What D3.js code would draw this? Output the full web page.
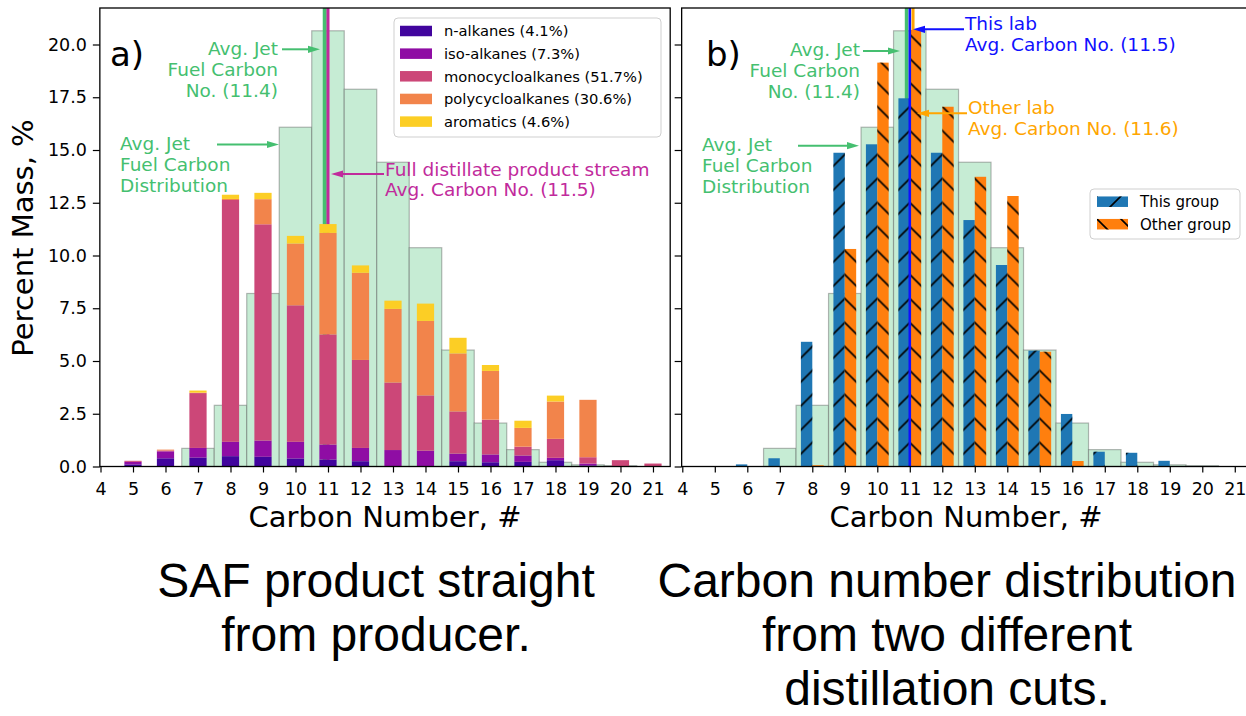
<!DOCTYPE html>
<html>
<head>
<meta charset="utf-8">
<script src="https://cdn.jsdelivr.net/npm/d3@7"></script>
<style>
body { margin: 0; background: #fff; }
svg { display: block; }
text { font-family: "DejaVu Sans", sans-serif; }
text.caption { font-family: "Liberation Sans", Arial, sans-serif; }
</style>
</head>
<body>
<svg id="fig" width="1246" height="716"></svg>
<script>
//////////////////////////////   DATA   //////////////////////////////
var carbon = [5, 6, 7, 8, 9, 10, 11, 12, 13, 14, 15, 16, 17, 18, 19, 20, 21];

// panel a) stacked composition, percent mass
var nAlkanes  = [0.10, 0.39, 0.42, 0.49, 0.46, 0.38, 0.33, 0.25, 0.00, 0.00, 0.25, 0.20, 0.22, 0.30, 0.05, 0.02, 0.00];
var isoAlkanes = [0.12, 0.33, 0.46, 0.68, 0.77, 0.79, 0.71, 0.63, 0.78, 0.75, 0.36, 0.37, 0.30, 0.11, 0.09, 0.00, 0.00];
var monocyclo = [0.05, 0.04, 2.60, 11.46, 10.25, 6.47, 5.22, 4.17, 3.20, 2.62, 2.00, 1.65, 0.42, 0.90, 0.30, 0.28, 0.14];
var polycyclo = [0.00, 0.04, 0.02, 0.05, 1.19, 2.93, 4.81, 4.13, 3.49, 3.53, 2.75, 2.31, 0.89, 1.77, 2.72, 0.00, 0.00];
var aromatics = [0.00, 0.00, 0.10, 0.20, 0.30, 0.36, 0.42, 0.35, 0.39, 0.82, 0.74, 0.28, 0.34, 0.28, 0.00, 0.00, 0.00];
var seriesLabels = ["n-alkanes (4.1%)", "iso-alkanes (7.3%)", "monocycloalkanes (51.7%)",
                    "polycycloalkanes (30.6%)", "aromatics (4.6%)"];

// average jet fuel carbon distribution (green histogram, both panels)
var jetFuel = [0.00, 0.00, 0.86, 2.90, 8.20, 16.08, 20.65, 17.88, 14.42, 10.37, 5.52, 2.06, 0.80, 0.20, 0.08, 0.04, 0.00];

// panel b) two distillation cuts
var thisGroup  = [0.00, 0.10, 0.39, 5.91, 14.87, 15.27, 17.45, 14.87, 11.68, 9.55, 5.49, 2.49, 0.70, 0.65, 0.27, 0.00, 0.00];
var otherGroup = [0.00, 0.00, 0.00, 0.06, 10.31, 19.14, 20.69, 17.05, 13.73, 12.82, 5.44, 0.26, 0.00, 0.00, 0.00, 0.00, 0.00];
var groupLabels = ["This group", "Other group"];

var xTicks = [4, 5, 6, 7, 8, 9, 10, 11, 12, 13, 14, 15, 16, 17, 18, 19, 20, 21];
var yTicks = [0, 2.5, 5, 7.5, 10, 12.5, 15, 17.5, 20];

var jetAvg = 11.4, streamAvg = 11.5, thisLabAvg = 11.5, otherLabAvg = 11.6;
var avgShift = -0.5;   // the original draws the average lines half a bin to the left

//////////////////////////////   SETUP   //////////////////////////////
var svg = d3.select("#fig");
svg.append("rect").attr("width", 1246).attr("height", 716).attr("fill", "#fff");
var defs = svg.append("defs");

var green = "#45bf70", greenFill = "#c6ecd4";
var plasma = [0.1, 0.3, 0.5, 0.7, 0.9].map(d3.interpolatePlasma);
var keys = ["n", "iso", "mono", "poly", "arom"];

var y = d3.scaleLinear().domain([0, 21.73]).range([466.5, 8]);
var xa = d3.scaleLinear().domain([3.98, 21.53]).range([99.85, 670.2]);
var xb = d3.scaleLinear().domain([3.98, 21.53]).range([681.65, 1252]);

function multiline(g, arr, x, y0, dy, color, anchor, size) {
    var t = g.append("text")
        .attr("fill", color)
        .attr("font-size", size)
        .attr("text-anchor", anchor);
    arr.forEach(function(s, i) {
        t.append("tspan").attr("x", x).attr("y", y0 + i * dy).text(s);
    });
}

function arrow(g, x1, yy, x2, color) {
    var dir = x2 > x1 ? 1 : -1;
    g.append("line")
        .attr("x1", x1).attr("x2", x2 - dir * 10)
        .attr("y1", yy).attr("y2", yy)
        .attr("stroke", color).attr("stroke-width", 2);
    g.append("path")
        .attr("d", "M" + x2 + "," + yy + "L" + (x2 - dir * 12) + "," + (yy - 3.6) +
                   "L" + (x2 - dir * 12) + "," + (yy + 3.6) + "Z")
        .attr("fill", color);
}

function hatch(id, x0, y0, dir) {
    var s = 24;
    var p = defs.append("pattern")
        .attr("id", id)
        .attr("patternUnits", "userSpaceOnUse")
        .attr("x", x0).attr("y", y0)
        .attr("width", s).attr("height", s);
    var d = dir == "/"
        ? "M0," + s + "L" + s + ",0M-4,4L4,-4M" + (s - 4) + "," + (s + 4) + "L" + (s + 4) + "," + (s - 4)
        : "M0,0L" + s + "," + s + "M-4," + (s - 4) + "L4," + (s + 4) + "M" + (s - 4) + ",-4L" + (s + 4) + ",4";
    p.append("path").attr("d", d).attr("stroke", "#000").attr("stroke-width", 1.6).attr("fill", "none");
}

function jetHist(g, x) {
    g.selectAll("rect.jet")
        .data(carbon.map(function(c, i) { return {c: c, v: jetFuel[i]}; }).filter(function(d) { return d.v > 0; }))
        .enter().append("rect")
        .attr("class", "jet")
        .attr("x", function(d) { return x(d.c - 0.5); })
        .attr("width", function(d) { return x(d.c + 0.5) - x(d.c - 0.5); })
        .attr("y", function(d) { return y(d.v); })
        .attr("height", function(d) { return y(0) - y(d.v); })
        .attr("fill", greenFill)
        .attr("stroke", "rgba(80,80,80,0.4)")
        .attr("stroke-width", 1.2);
}

function vline(g, x, val, color, w) {
    g.append("line")
        .attr("x1", x(val + avgShift)).attr("x2", x(val + avgShift))
        .attr("y1", y.range()[1]).attr("y2", y(0))
        .attr("stroke", color).attr("stroke-width", w);
}

function axes(g, x, withLabels) {
    g.append("g")
        .attr("transform", "translate(0," + y(0) + ")")
        .call(d3.axisBottom(x).tickValues(xTicks).tickSize(6).tickPadding(10).tickFormat(d3.format("d")))
        .call(function(a) {
            a.select(".domain").remove();
            a.selectAll("text").attr("font-size", 17.5).attr("fill", "#000");
            a.selectAll("line").attr("stroke", "#000").attr("stroke-width", 1.2);
        });
    var ya = d3.axisLeft(y).tickValues(yTicks).tickSize(7).tickPadding(6).tickFormat(d3.format(".1f"));
    if (!withLabels) ya.tickFormat("");
    g.append("g")
        .attr("transform", "translate(" + x.range()[0] + ",0)")
        .call(ya)
        .call(function(a) {
            a.select(".domain").remove();
            a.selectAll("text").attr("font-size", 17.5).attr("fill", "#000");
            a.selectAll("line").attr("stroke", "#000").attr("stroke-width", 1.2);
        });
    g.append("rect")
        .attr("x", x.range()[0]).attr("y", y.range()[1])
        .attr("width", x.range()[1] - x.range()[0])
        .attr("height", y(0) - y.range()[1])
        .attr("fill", "none").attr("stroke", "#000").attr("stroke-width", 1.3);
}

//////////////////////////////   PANEL A   //////////////////////////////
var ga = svg.append("g");
jetHist(ga, xa);
vline(ga, xa, jetAvg, green, 4);
vline(ga, xa, streamAvg, "#c12a9c", 3);

var rows = carbon.map(function(c, i) {
    return {c: c, n: nAlkanes[i], iso: isoAlkanes[i], mono: monocyclo[i], poly: polycyclo[i], arom: aromatics[i]};
});
var stacked = d3.stack().keys(keys)(rows);
var bw = 0.53;
ga.selectAll("g.layer")
    .data(stacked)
    .enter().append("g")
    .attr("class", "layer")
    .attr("fill", function(d, i) { return plasma[i]; })
    .selectAll("rect")
    .data(function(d) { return d; })
    .enter().append("rect")
    .attr("x", function(d) { return xa(d.data.c - bw / 2); })
    .attr("width", xa(bw) - xa(0))
    .attr("y", function(d) { return y(d[1]); })
    .attr("height", function(d) { return Math.max(0, y(d[0]) - y(d[1])); });

axes(ga, xa, true);

// legend
var lg = ga.append("g");
lg.append("rect").attr("x", 394).attr("y", 18).attr("width", 267).attr("height", 119)
    .attr("rx", 4).attr("fill", "#fff").attr("fill-opacity", 0.85)
    .attr("stroke", "#cfcfcf").attr("stroke-width", 1);
seriesLabels.forEach(function(s, i) {
    var cy = 31 + i * 22.65;
    lg.append("rect").attr("x", 400).attr("y", cy - 5.25).attr("width", 32).attr("height", 10.5)
        .attr("fill", plasma[i]);
    lg.append("text").attr("x", 444).attr("y", cy + 5.3).attr("font-size", 14.7).text(s);
});

ga.append("text").attr("x", 110).attr("y", 66).attr("font-size", 34).text("a)");
multiline(ga, ["Avg. Jet", "Fuel Carbon", "No. (11.4)"], 278, 55, 21, green, "end", 18.5);
arrow(ga, 282, 49.3, 320, green);
multiline(ga, ["Avg. Jet", "Fuel Carbon", "Distribution"], 120, 150, 21, green, "start", 18.5);
arrow(ga, 217, 144.5, 279, green);
multiline(ga, ["Full distillate product stream", "Avg. Carbon No. (11.5)"], 385, 175.5, 20.5, "#c12a9c", "start", 18.5);
arrow(ga, 384, 174, 331, "#c12a9c");

ga.append("text").attr("x", 385).attr("y", 527).attr("font-size", 29)
    .attr("text-anchor", "middle").text("Carbon Number, #");
ga.append("text").attr("transform", "translate(33,238) rotate(-90)").attr("font-size", 29)
    .attr("text-anchor", "middle").text("Percent Mass, %");

//////////////////////////////   PANEL B   //////////////////////////////
var gb = svg.append("g");
jetHist(gb, xb);
vline(gb, xb, jetAvg, green, 3.5);
vline(gb, xb, otherLabAvg, "#ffa500", 3);

var gw = 0.35;
carbon.forEach(function(c) {
    hatch("hb" + c, xb(c), y(0), "/");
    hatch("ho" + c, xb(c), y(0), "\\");
});
var pairs = carbon.map(function(c, i) { return {c: c, a: thisGroup[i], b: otherGroup[i]}; });

gb.selectAll("rect.this").data(pairs.filter(function(d) { return d.a > 0; }))
    .enter().append("rect").attr("class", "this")
    .attr("x", function(d) { return xb(d.c - gw); })
    .attr("width", xb(gw) - xb(0))
    .attr("y", function(d) { return y(d.a); })
    .attr("height", function(d) { return y(0) - y(d.a); })
    .attr("fill", "#1f77b4");
gb.selectAll("rect.thish").data(pairs.filter(function(d) { return d.a > 0.5; }))
    .enter().append("rect").attr("class", "thish")
    .attr("x", function(d) { return xb(d.c - gw); })
    .attr("width", xb(gw) - xb(0))
    .attr("y", function(d) { return y(d.a); })
    .attr("height", function(d) { return y(0) - y(d.a); })
    .attr("fill", function(d) { return "url(#hb" + d.c + ")"; });

gb.selectAll("rect.other").data(pairs.filter(function(d) { return d.b > 0; }))
    .enter().append("rect").attr("class", "other")
    .attr("x", function(d) { return xb(d.c); })
    .attr("width", xb(gw) - xb(0))
    .attr("y", function(d) { return y(d.b); })
    .attr("height", function(d) { return y(0) - y(d.b); })
    .attr("fill", "#ff7f0e");
gb.selectAll("rect.otherh").data(pairs.filter(function(d) { return d.b > 0.5; }))
    .enter().append("rect").attr("class", "otherh")
    .attr("x", function(d) { return xb(d.c); })
    .attr("width", xb(gw) - xb(0))
    .attr("y", function(d) { return y(d.b); })
    .attr("height", function(d) { return y(0) - y(d.b); })
    .attr("fill", function(d) { return "url(#ho" + d.c + ")"; });

vline(gb, xb, thisLabAvg, "#1010ff", 2.6);

axes(gb, xb, false);

// legend
var lb = gb.append("g");
lb.append("rect").attr("x", 1090).attr("y", 189).attr("width", 150).attr("height", 50)
    .attr("rx", 4).attr("fill", "#fff").attr("fill-opacity", 0.85)
    .attr("stroke", "#cfcfcf").attr("stroke-width", 1);
hatch("lhb", 1097, 196, "/");
hatch("lho", 1097, 219, "\\");
[["#1f77b4", "lhb"], ["#ff7f0e", "lho"]].forEach(function(p, i) {
    var cy = 201.7 + i * 22.5;
    lb.append("rect").attr("x", 1097).attr("y", cy - 5.25).attr("width", 31).attr("height", 10.5).attr("fill", p[0]);
    lb.append("rect").attr("x", 1097).attr("y", cy - 5.25).attr("width", 31).attr("height", 10.5)
        .attr("fill", "url(#" + p[1] + ")");
    lb.append("text").attr("x", 1140).attr("y", cy + 5.4).attr("font-size", 15).text(groupLabels[i]);
});

gb.append("text").attr("x", 706).attr("y", 66).attr("font-size", 34).text("b)");
multiline(gb, ["Avg. Jet", "Fuel Carbon", "No. (11.4)"], 860, 56, 21, green, "end", 18.5);
arrow(gb, 863, 51, 900, green);
multiline(gb, ["Avg. Jet", "Fuel Carbon", "Distribution"], 702, 151, 21, green, "start", 18.5);
arrow(gb, 798, 145.7, 859, green);
multiline(gb, ["This lab", "Avg. Carbon No. (11.5)"], 965, 30, 20.5, "#1010ff", "start", 18.5);
arrow(gb, 964, 29.3, 913, "#1010ff");
multiline(gb, ["Other lab", "Avg. Carbon No. (11.6)"], 968, 113.5, 21, "#ffa500", "start", 18.5);
arrow(gb, 967, 113.3, 917, "#ffa500");

gb.append("text").attr("x", 966).attr("y", 527).attr("font-size", 29)
    .attr("text-anchor", "middle").text("Carbon Number, #");

//////////////////////////////   CAPTIONS   //////////////////////////////
var cap = svg.append("g").attr("font-size", 48).attr("text-anchor", "middle");
function caption(arr, x) {
    var t = cap.append("text").attr("class", "caption").attr("fill", "#000");
    arr.forEach(function(s, i) {
        t.append("tspan").attr("x", x).attr("y", 597 + i * 54).text(s);
    });
}
caption(["SAF product straight", "from producer."], 376);
caption(["Carbon number distribution", "from two different", "distillation cuts."], 947);
</script>
</body>
</html>
